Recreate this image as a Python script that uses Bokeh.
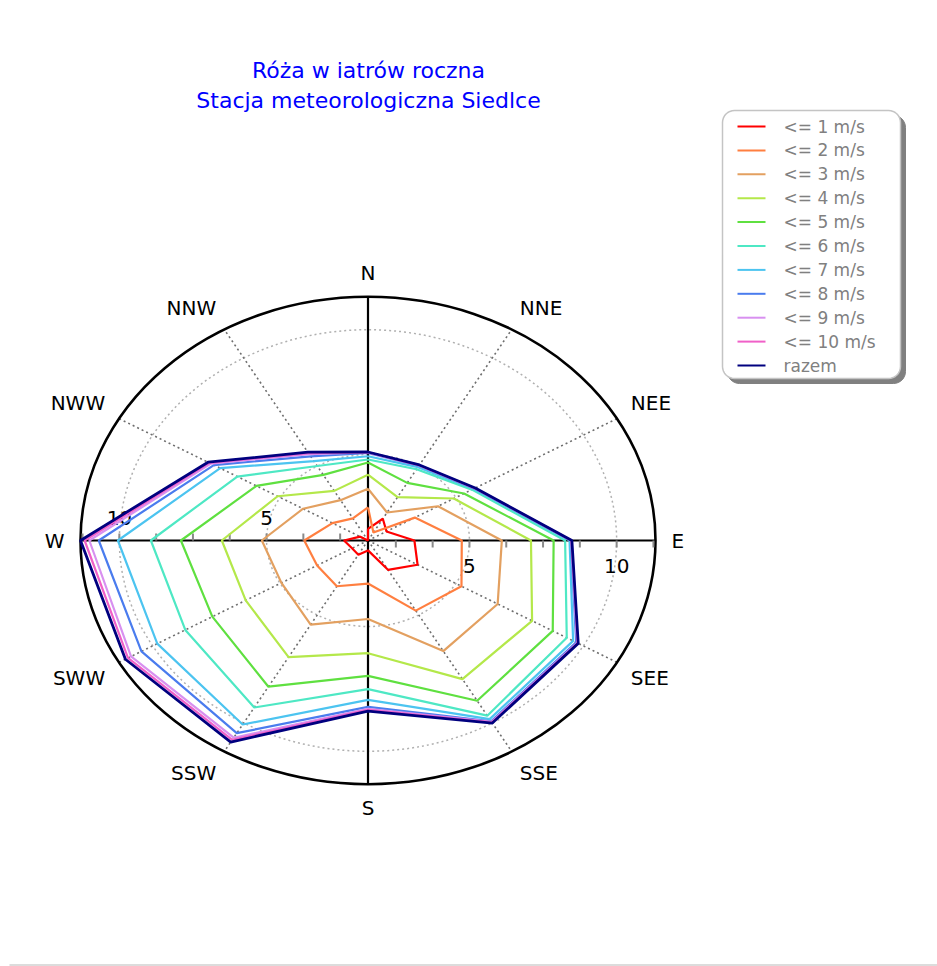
import math
from bokeh.plotting import figure
from bokeh.models import Range1d
from bokeh.embed import file_html
from bokeh.resources import INLINE
from bokeh.core.properties import value

# ---------------- data ----------------
directions = ["N", "NNE", "NEE", "E", "SEE", "SSE", "S", "SSW", "SWW", "W", "NWW", "NNW"]
dir_angles = [0, 30, 60, 90, 120, 150, 180, 210, 240, 270, 300, 330]

series_names = ["<= 1 m/s", "<= 2 m/s", "<= 3 m/s", "<= 4 m/s", "<= 5 m/s",
                "<= 6 m/s", "<= 7 m/s", "<= 8 m/s", "<= 9 m/s", "<= 10 m/s", "razem"]
series_colors = ["#ff0000", "#ff7f40", "#e3a060", "#b4e84a", "#5fe040",
                 "#4ee8c4", "#4cc4f0", "#4a7cee", "#d890f0", "#f060c8", "#00007f"]

v1 = [2.02, 2.56, 2.28, 3.13, 3.50, 2.91, 1.95, 2.21, 2.18, 2.37, 1.86, 1.554]
v2 = [2.88, 1.92, 3.39, 4.74, 5.22, 4.80, 3.28, 3.67, 3.55, 3.72, 2.95, 2.58]
v3 = [3.63, 2.85, 4.30, 6.10, 6.64, 6.67, 4.70, 5.45, 4.95, 5.16, 4.10, 3.42]
v4 = [4.19, 3.56, 4.92, 7.09, 7.99, 7.97, 6.07, 6.95, 6.35, 6.52, 5.10, 3.85]
v5 = [4.68, 4.22, 5.32, 7.86, 8.80, 8.97, 6.98, 8.32, 7.66, 7.91, 5.93, 4.59]
v6 = [4.80, 4.85, 5.63, 8.25, 9.35, 9.66, 7.51, 9.28, 8.72, 8.93, 6.68, 5.00]
v7 = [4.93, 4.95, 5.70, 8.40, 9.60, 9.82, 7.94, 10.07, 9.82, 10.05, 7.35, 5.23]
v8 = [5.06, 5.02, 5.73, 8.45, 9.72, 9.92, 8.22, 10.47, 10.44, 10.70, 7.60, 5.45]
v9 = [5.08, 5.03, 5.74, 8.46, 9.76, 9.95, 8.30, 10.68, 10.85, 11.02, 7.72, 5.55]
v10 = [5.09, 5.04, 5.75, 8.47, 9.78, 9.97, 8.34, 10.78, 10.97, 11.18, 7.78, 5.60]
v_razem = [5.10, 5.05, 5.76, 8.48, 9.80, 10.00, 8.39, 10.88, 11.07, 11.32, 7.83, 5.64]

radial_ticks = [2.5, 3.75, 5.0, 6.25, 7.5, 8.75, 10.0, 11.25]
radial_labels = [5, 10]
ring_values = [5, 10]

title_lines = ["Róża w iatrów roczna", "Stacja meteorologiczna Siedlce"]

all_series = [v1, v2, v3, v4, v5, v6, v7, v8, v9, v10, v_razem]

# ---------------- layout ----------------
W_FIG, H_FIG = 937, 966
CX, CY = 367.5, 540              # polar centre on the canvas (px)
RX, RY = 287.5, 243.7            # outer radius in px (horizontal / vertical)

R_MIN = min(min(s) for s in all_series)
R_MAX = max(max(s) for s in all_series)


def u_of(r):
    return (r - R_MIN) / (R_MAX - R_MIN)


p = figure(width=W_FIG, height=H_FIG,
           x_range=Range1d(-CX / RX, (W_FIG - CX) / RX),
           y_range=Range1d(-(H_FIG - CY) / RY, CY / RY),
           output_backend="svg", toolbar_location=None,
           x_axis_location=None, y_axis_location=None,
           min_border=0, outline_line_color=None)
p.grid.visible = False
p.background_fill_color = "white"
p.border_fill_color = "white"
p.extra_x_ranges = {"px": Range1d(0, W_FIG)}
p.extra_y_ranges = {"px": Range1d(H_FIG, 0)}

FONT = value("DejaVu Sans")

# rings (dotted)
p.ellipse(x=[0] * len(ring_values), y=[0] * len(ring_values),
          width=[2 * u_of(r) for r in ring_values],
          height=[2 * u_of(r) for r in ring_values],
          fill_color=None, line_color="#b0b0b0", line_width=1.5, line_dash="2 3")

# dotted spokes
for a in dir_angles:
    if a % 90 != 0:
        t = math.radians(a)
        p.line([0, math.sin(t)], [0, math.cos(t)], line_color="#6e6e6e",
               line_width=1.6, line_dash="2 3")

# solid axes
p.line([-1, 1], [0, 0], line_color="black", line_width=2.2)
p.line([0, 0], [-1, 1], line_color="black", line_width=2.2)

# outer ellipse
p.ellipse(x=[0], y=[0], width=[2], height=[2], fill_color=None,
          line_color="black", line_width=2.6)

# radial ticks on the W-E axis
tu = [u_of(r) for r in radial_ticks]
p.segment(x0=[-u for u in tu], y0=[0] * len(tu), x1=[-u for u in tu],
          y1=[7 / RY] * len(tu), line_color="#8a8a8a", line_width=2)
p.segment(x0=tu, y0=[0] * len(tu), x1=tu, y1=[-7 / RY] * len(tu),
          line_color="#8a8a8a", line_width=2)

# radial tick labels
lu = [u_of(r) for r in radial_labels]
p.text(x=[-u for u in lu], y=[23 / RY] * len(lu), text=[str(v) for v in radial_labels],
       text_font=FONT, text_font_size="20px", text_color="black",
       text_align="center", text_baseline="middle")
p.text(x=lu, y=[-25 / RY] * len(lu), text=[str(v) for v in radial_labels],
       text_font=FONT, text_font_size="20px", text_color="black",
       text_align="center", text_baseline="middle")

# direction labels (text centre placed just outside the ellipse)
D = 16
HALF_CAP = 7.5
for name, a in zip(directions, dir_angles):
    t = math.radians(a)
    s, c = math.sin(t), math.cos(t)
    align = "left" if s > 0.1 else ("right" if s < -0.1 else "center")
    dy_px = D * c + (HALF_CAP if c > 0.1 else (-HALF_CAP if c < -0.1 else 0))
    p.text(x=[s + D * s / RX], y=[c + dy_px / RY], text=[name],
           text_font=FONT, text_font_size="20px", text_color="black",
           text_align=align, text_baseline="middle")

# series polygons
for vals, col, name in zip(all_series, series_colors, series_names):
    xs, ys = [], []
    for r, a in zip(vals + vals[:1], dir_angles + dir_angles[:1]):
        t = math.radians(a)
        u = u_of(r)
        xs.append(u * math.sin(t))
        ys.append(u * math.cos(t))
    p.line(xs, ys, line_color=col, line_width=2.8 if name == "razem" else 2.2)

# title
p.text(x=[368, 368], y=[70, 99.5], text=title_lines,
       x_range_name="px", y_range_name="px",
       text_font=FONT, text_font_size="22px", text_color="#0000ff",
       text_align="center", text_baseline="middle")


# legend (pixel space)
def rounded_rect(x0, y0, x1, y1, rad, n=8):
    xs, ys = [], []
    corners = [(x1 - rad, y0 + rad, -90, 0), (x1 - rad, y1 - rad, 0, 90),
               (x0 + rad, y1 - rad, 90, 180), (x0 + rad, y0 + rad, 180, 270)]
    for cx, cy, a0, a1 in corners:
        for k in range(n + 1):
            a = math.radians(a0 + (a1 - a0) * k / n)
            xs.append(cx + rad * math.cos(a))
            ys.append(cy + rad * math.sin(a))
    return xs, ys


LX0, LY0, LX1, LY1 = 722, 110, 900, 378
sx, sy = rounded_rect(LX0 + 5, LY0 + 5, LX1 + 5, LY1 + 5, 12)
p.patch(sx, sy, x_range_name="px", y_range_name="px", fill_color="#808080",
        line_color="#808080")
bx, by = rounded_rect(LX0, LY0, LX1, LY1, 12)
p.patch(bx, by, x_range_name="px", y_range_name="px", fill_color="white",
        line_color="#c4c4c4", line_width=1.5)

for i, (name, col) in enumerate(zip(series_names, series_colors)):
    yy = 126 + 23.9 * i
    p.line([737, 765], [yy, yy], x_range_name="px", y_range_name="px",
           line_color=col, line_width=2)
    p.text(x=[783], y=[yy], text=[name], x_range_name="px", y_range_name="px",
           text_font=FONT, text_font_size="17px", text_color="#808080",
           text_align="left", text_baseline="middle")

# thin bottom rule
p.line([9, 937], [964.5, 964.5], x_range_name="px", y_range_name="px",
       line_color="#dcdcdc", line_width=2)

open("out.html", "w").write(file_html(p, INLINE))
